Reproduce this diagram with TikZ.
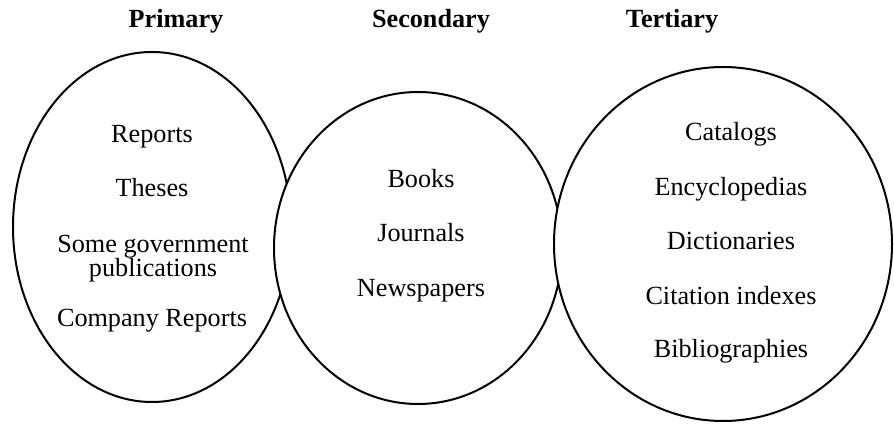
\documentclass[tikz,border=0pt]{standalone}
\usepackage{fontspec}
\setmainfont{Liberation Serif}
\begin{document}
\begin{tikzpicture}[x = 0.5pt, y = -0.5pt,
        item/.style = {anchor = base, inner sep = 0pt, font = \fontsize{13.1}{15}\selectfont},
        head/.style = {item, font = \fontsize{13.1}{15}\selectfont\bfseries},
        oval/.style = {line width = 1pt, fill = white}]
            \useasboundingbox (0, 0) rectangle (894, 426);
            % the three groups, later ones lie on top
            \draw [oval] (152, 227) ellipse [x radius = 139, y radius = 175];
            \draw [oval] (418, 248) ellipse [x radius = 144, y radius = 156];
            \draw [oval] (723, 244) ellipse [x radius = 169, y radius = 177];
            \node [head] (primary) at (176, 28) {Primary};
            \node [head] (secondary) at (431, 28) {Secondary};
            \node [head] (tertiary) at (672, 28) {Tertiary};
            \node [item] (reports) at (152, 143) {Reports};
            \node [item] (theses) at (152, 197) {Theses};
            \node [item] (govt) at (153, 253) {Some government};
            \node [item] (publ) at (153, 277) {publications};
            \node [item] (company) at (152, 327) {Company Reports};
            \node [item] (books) at (421, 188) {Books};
            \node [item] (journals) at (421, 242) {Journals};
            \node [item] (news) at (421, 297) {Newspapers};
            \node [item] (catalogs) at (731, 141) {Catalogs};
            \node [item] (encycl) at (731, 196) {Encyclopedias};
            \node [item] (dict) at (731, 250) {Dictionaries};
            \node [item] (citation) at (731, 305) {Citation indexes};
            \node [item] (biblio) at (731, 358) {Bibliographies};
        \end{tikzpicture}
\end{document}
